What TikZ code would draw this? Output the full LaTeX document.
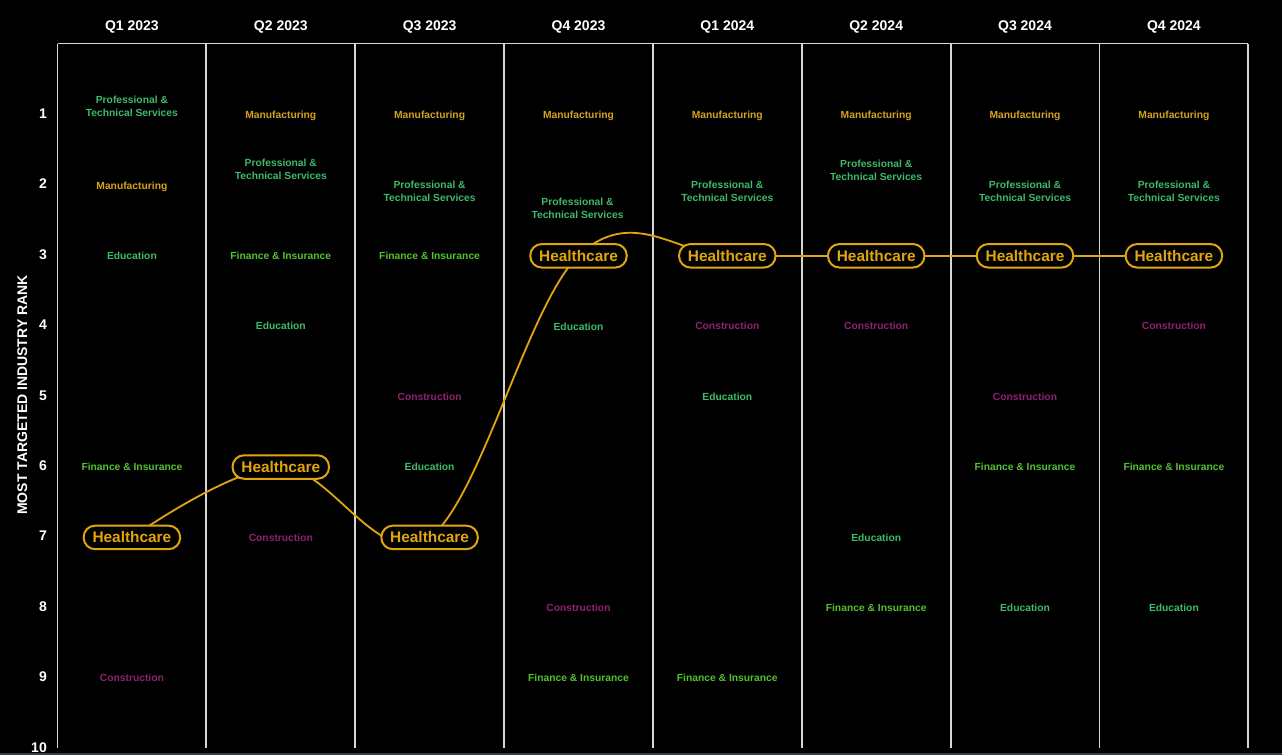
\documentclass[tikz,border=0pt]{standalone}
\usepackage{fontspec}
\setmainfont{Liberation Sans}
\definecolor{gridc}{RGB}{214,214,214}
\definecolor{hcgold}{RGB}{224,166,12}
\definecolor{mangold}{RGB}{214,162,32}
\definecolor{tealgreen}{RGB}{62,186,106}
\definecolor{fingreen}{RGB}{84,192,52}
\definecolor{conpurple}{RGB}{142,34,112}
\definecolor{basegray}{RGB}{58,62,68}
\pgfdeclarelayer{bg}
\pgfdeclarelayer{curves}
\pgfsetlayers{bg,curves,main}
\begin{document}
\begin{tikzpicture}[x=1pt,y=-1pt,
  lbl/.style={inner sep=0pt, font=\fontsize{10.3}{13}\selectfont\bfseries, text height=7.4pt, text depth=0pt},
  man/.style={lbl, text=mangold},
  edu/.style={lbl, text=tealgreen},
  fin/.style={lbl, text=fingreen},
  con/.style={lbl, text=conpurple},
  pro/.style={inner sep=0pt, font=\fontsize{10.3}{13}\selectfont\bfseries, align=center, text=tealgreen},
  hc/.style={draw=hcgold, line width=2pt, fill=black, rounded corners=11.5pt,
    minimum width=96.5pt, minimum height=23.5pt, inner sep=0pt, text=hcgold,
    font=\fontsize{15.4}{18}\selectfont\bfseries, text height=11.1pt, text depth=0pt},
  hdr/.style={inner sep=0pt, text=white, font=\fontsize{14}{16}\selectfont\bfseries, text height=10.1pt, text depth=0pt},
  rnk/.style={inner sep=0pt, anchor=east, text=white, font=\fontsize{14}{16}\selectfont\bfseries, text height=10.1pt, text depth=0pt},
  gridline/.style={draw=gridc, line width=1.8pt},
  link/.style={draw=hcgold, line width=1.8pt}
]
\useasboundingbox (0,0) rectangle (1282,755);
\begin{pgfonlayer}{bg}
  \fill[black] (0,0) rectangle (1282,755);
  \draw[basegray, line width=1.5pt] (0,754) -- (1282,754);
  \draw[gridline] (57.5,43.5) -- (1248.3,43.5);
  \foreach \i in {0,...,8} {
    \draw[gridline] ({57.5+148.85*\i},43.5) -- ({57.5+148.85*\i},748);
  }
\end{pgfonlayer}

% headers
\node[hdr] (hq1) at (131.9,25) {Q1 2023};
\node[hdr] (hq2) at (280.8,25) {Q2 2023};
\node[hdr] (hq3) at (429.6,25) {Q3 2023};
\node[hdr] (hq4) at (578.5,25) {Q4 2023};
\node[hdr] (hq5) at (727.3,25) {Q1 2024};
\node[hdr] (hq6) at (876.2,25) {Q2 2024};
\node[hdr] (hq7) at (1025.0,25) {Q3 2024};
\node[hdr] (hq8) at (1173.9,25) {Q4 2024};

% rank numbers
\foreach \r in {1,...,10} {
  \node[rnk] (rank\r) at (47,{113.5+70.4*(\r-1)}) {\r};
}
\node[inner sep=0pt, rotate=90, text=white, font=\fontsize{14}{16}\selectfont\bfseries, text height=10.1pt, text depth=0pt] (axis) at (22,395) {MOST TARGETED INDUSTRY RANK};

% Q1 2023
\node[pro] (a1pro) at (131.9,106.7) {Professional \&\\Technical Services};
\node[man] (a1man) at (131.9,185.4) {Manufacturing};
\node[edu] (a1edu) at (131.9,255.8) {Education};
\node[fin] (a1fin) at (131.9,467.0) {Finance \& Insurance};
\node[con] (a1con) at (131.9,678.2) {Construction};
% Q2 2023
\node[man] (a2man) at (280.8,115.0) {Manufacturing};
\node[pro] (a2pro) at (280.8,169.7) {Professional \&\\Technical Services};
\node[fin] (a2fin) at (280.8,255.8) {Finance \& Insurance};
\node[edu] (a2edu) at (280.8,326.2) {Education};
\node[con] (a2con) at (280.8,537.4) {Construction};
% Q3 2023
\node[man] (a3man) at (429.6,115.0) {Manufacturing};
\node[pro] (a3pro) at (429.6,191.7) {Professional \&\\Technical Services};
\node[fin] (a3fin) at (429.6,255.8) {Finance \& Insurance};
\node[con] (a3con) at (429.6,396.6) {Construction};
\node[edu] (a3edu) at (429.6,467.0) {Education};
% Q4 2023
\node[man] (a4man) at (578.5,115.0) {Manufacturing};
\node[pro] (a4pro) at (577.5,208.8) {Professional \&\\Technical Services};
\node[edu] (a4edu) at (578.5,326.6) {Education};
\node[con] (a4con) at (578.5,607.8) {Construction};
\node[fin] (a4fin) at (578.5,678.2) {Finance \& Insurance};
% Q1 2024
\node[man] (a5man) at (727.3,115.0) {Manufacturing};
\node[pro] (a5pro) at (727.3,191.7) {Professional \&\\Technical Services};
\node[con] (a5con) at (727.3,326.2) {Construction};
\node[edu] (a5edu) at (727.3,396.6) {Education};
\node[fin] (a5fin) at (727.3,678.2) {Finance \& Insurance};
% Q2 2024
\node[man] (a6man) at (876.2,115.0) {Manufacturing};
\node[pro] (a6pro) at (876.2,170.3) {Professional \&\\Technical Services};
\node[con] (a6con) at (876.2,326.2) {Construction};
\node[edu] (a6edu) at (876.2,537.4) {Education};
\node[fin] (a6fin) at (876.2,607.8) {Finance \& Insurance};
% Q3 2024
\node[man] (a7man) at (1025.0,115.0) {Manufacturing};
\node[pro] (a7pro) at (1025.0,191.7) {Professional \&\\Technical Services};
\node[con] (a7con) at (1025.0,396.6) {Construction};
\node[fin] (a7fin) at (1025.0,467.0) {Finance \& Insurance};
\node[edu] (a7edu) at (1025.0,607.8) {Education};
% Q4 2024
\node[man] (a8man) at (1173.9,115.0) {Manufacturing};
\node[pro] (a8pro) at (1173.9,191.7) {Professional \&\\Technical Services};
\node[con] (a8con) at (1173.9,326.2) {Construction};
\node[fin] (a8fin) at (1173.9,467.0) {Finance \& Insurance};
\node[edu] (a8edu) at (1173.9,607.8) {Education};

% Healthcare nodes
\node[hc] (h1) at (131.9,537.4) {Healthcare};
\node[hc] (h2) at (280.8,467.0) {Healthcare};
\node[hc] (h3) at (429.6,537.4) {Healthcare};
\node[hc] (h4) at (578.5,255.8) {Healthcare};
\node[hc] (h5) at (727.3,255.8) {Healthcare};
\node[hc] (h6) at (876.2,255.8) {Healthcare};
\node[hc] (h7) at (1025.0,255.8) {Healthcare};
\node[hc] (h8) at (1173.9,255.8) {Healthcare};

\begin{pgfonlayer}{curves}
  \draw[link] (h1.center) .. controls (131.9,537.4) and (231.2,467.0) .. (h2.center);
  \draw[link] (h2.center) .. controls (330.4,467.0) and (380.0,572.6) .. (h3.center);
  \draw[link] (h3.center) .. controls (479.2,502.2) and (528.9,302.7) .. (h4.center);
  \draw[link] (h4.center) .. controls (632.0,204.0) and (680.0,255.8) .. (h5.center);
  \draw[link] (h5.center) -- (h6.center);
  \draw[link] (h6.center) -- (h7.center);
  \draw[link] (h7.center) -- (h8.center);
\end{pgfonlayer}
\end{tikzpicture}
\end{document}
